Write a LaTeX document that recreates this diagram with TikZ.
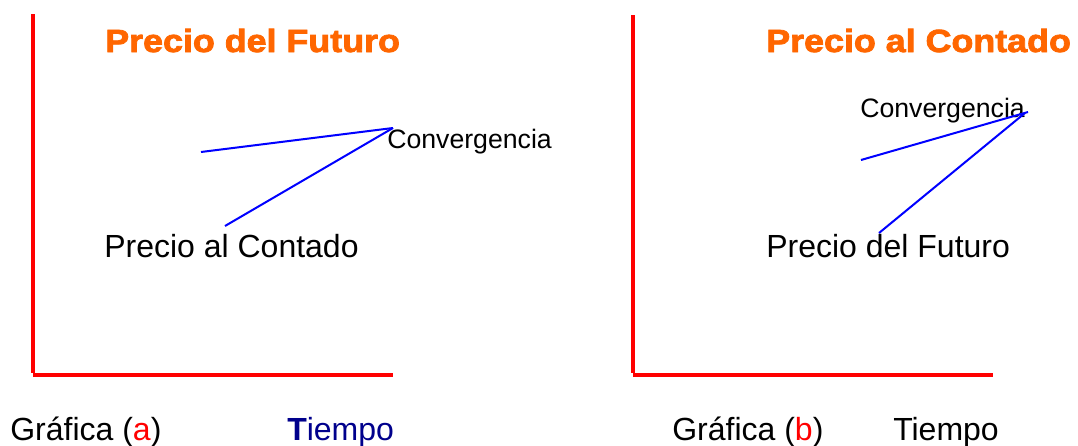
\documentclass[tikz,border=0pt]{standalone}
\usepackage{fontspec}
\setmainfont{Liberation Sans}
\newfontfamily\titlefont{Liberation Sans}[BoldFeatures={FakeStretch=1.12,FakeBold=2.5}]
\usepackage{tikz}
\definecolor{titleorange}{RGB}{255,102,0}
\definecolor{axisred}{RGB}{255,0,0}
\definecolor{timenavy}{RGB}{0,0,140}
\tikzstyle{axis line}=[axisred,line width=3.4pt]
\tikzstyle{price line}=[blue,line width=1.5pt]
\tikzstyle{big text}=[font=\fontsize{24}{28}\selectfont]
\tikzstyle{small text}=[font=\fontsize{20}{24}\selectfont]
\tikzstyle{title text}=[font=\fontsize{24}{28}\selectfont\titlefont\bfseries,text=titleorange]
\newcommand{\plotnode}[3][]{
  \node [anchor=base west, inner sep=0pt, #1] (#2) {#3}
}

\begin{document}
\begin{tikzpicture}[x=0.75pt,y=-0.75pt]
        \useasboundingbox (0,0) rectangle (1078,446);
        % graph (a)
        \coordinate (topa) at (33,14);
        \coordinate (corna) at (33,373);
        \coordinate (oa) at (33,375);
        \coordinate (enda) at (393,375);
        \draw[axis line] (topa) -- (corna);
        \draw[axis line] (oa) -- (enda);
        \plotnode[title text, at={(105,52)}]{titlea}{Precio del Futuro};
        \plotnode[small text, at={(387,148)}]{conva}{Convergencia};
        \plotnode[big text, at={(104,257)}]{spota}{Precio al Contado};
        \plotnode[big text, at={(10,440)}]{grafa}{Gráfica ({\color{axisred}a})};
        \plotnode[big text, text=timenavy, at={(287,440)}]{timea}{\textbf{T}iempo};
        \coordinate (meeta) at (393,128);
        \coordinate (futa) at (201,152);
        \coordinate (cona) at (225,226);
          \draw[price line] (futa) -- (meeta);
          \draw[price line] (cona) -- (meeta);

        % graph (b)
        \coordinate (topb) at (633,15);
        \coordinate (cornb) at (633,373);
        \coordinate (ob) at (633,375);
        \coordinate (endb) at (993,375);
        \draw[axis line] (topb) -- (cornb);
        \draw[axis line] (ob) -- (endb);
        \plotnode[title text, at={(766,52)}]{titleb}{Precio al Contado};
        \plotnode[small text, at={(860,117)}]{convb}{Convergencia};
        \plotnode[big text, at={(766,257)}]{futb}{Precio del Futuro};
        \plotnode[big text, at={(672,440)}]{grafb}{Gráfica ({\color{axisred}b})};
        \plotnode[big text, at={(893,440)}]{timeb}{Tiempo};
        \coordinate (meetb) at (1028,112);
        \coordinate (meetb2) at (1025,113);
        \coordinate (conb) at (861,160);
        \coordinate (futlb) at (879,233);
          \draw[price line] (conb) -- (meetb);
          \draw[price line] (futlb) -- (meetb2);
\end{tikzpicture}
\end{document}
